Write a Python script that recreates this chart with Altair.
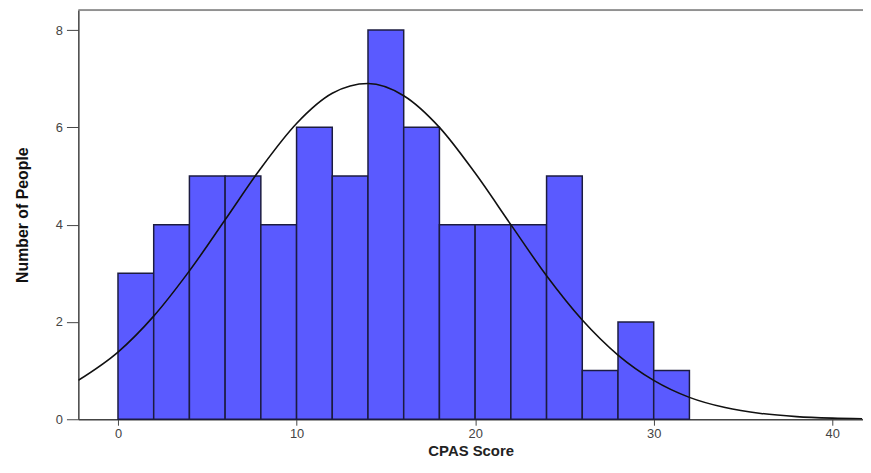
import altair as alt
import pandas as pd

# Histogram bins (width 2) and counts
bin_start = [0, 2, 4, 6, 8, 10, 12, 14, 16, 18, 20, 22, 24, 26, 28, 30]
bin_end = [2, 4, 6, 8, 10, 12, 14, 16, 18, 20, 22, 24, 26, 28, 30, 32]
counts = [3, 4, 5, 5, 4, 6, 5, 8, 6, 4, 4, 4, 5, 1, 2, 1]

# Fitted normal curve
curve_x = [-2.22, 0, 2, 4, 6, 8, 10, 12, 14, 16, 18, 20, 22, 24, 26, 28, 30, 32, 34, 36, 38, 40, 41.67]
curve_y = [0.80, 1.38, 2.12, 3.05, 4.10, 5.16, 6.08, 6.70, 6.90, 6.65, 6.00, 5.06, 4.00, 2.95, 2.04,
           1.32, 0.80, 0.45, 0.24, 0.12, 0.055, 0.024, 0.011]

x_ticks = [0, 10, 20, 30, 40]
y_ticks = [0, 2, 4, 6, 8]

XDOM = [-2.22, 41.72]
YDOM = [0, 8.41]

bars_df = pd.DataFrame({"start": bin_start, "end": bin_end, "count": counts})
curve_df = pd.DataFrame({"x": curve_x, "y": curve_y})
top_df = pd.DataFrame({"x": [XDOM[0]], "x2": [XDOM[1]], "y": [YDOM[1]]})

xscale = alt.Scale(domain=XDOM, nice=False, zero=False)
yscale = alt.Scale(domain=YDOM, nice=False)

bars = alt.Chart(bars_df).mark_bar(
    color="#5A5AFF", stroke="#1c1c40", strokeWidth=1.5, opacity=1
).encode(
    x=alt.X("start:Q", scale=xscale,
            axis=alt.Axis(values=x_ticks, title="CPAS Score", grid=False,
                          tickSize=6, tickColor="#444", domainColor="#444", domainWidth=1.5,
                          labelColor="#444", labelFontSize=13, labelFont="Liberation Sans",
                          labelPadding=2,
                          titleFont="Liberation Sans", titleFontSize=15, titleFontWeight="bold",
                          titleColor="#222", titlePadding=4)),
    x2="end:Q",
    y=alt.Y("count:Q", scale=yscale,
            axis=alt.Axis(values=y_ticks, title="Number of People", grid=False,
                          tickSize=12, tickColor="#444", domainColor="#444", domainWidth=1.5,
                          labelColor="#444", labelFontSize=13, labelFont="Liberation Sans",
                          labelPadding=4,
                          titleFont="Liberation Sans Narrow, Liberation Sans", titleFontSize=16,
                          titleFontWeight="bold", titleColor="#111", titlePadding=25)),
    y2=alt.datum(0),
)

curve = alt.Chart(curve_df).mark_line(
    color="#111", strokeWidth=1.6, interpolate="monotone", clip=True
).encode(
    x=alt.X("x:Q", scale=xscale),
    y=alt.Y("y:Q", scale=yscale),
)

top = alt.Chart(top_df).mark_rule(color="#777", strokeWidth=1.5).encode(
    x=alt.X("x:Q", scale=xscale),
    x2="x2:Q",
    y=alt.Y("y:Q", scale=yscale),
)

chart = alt.layer(bars, curve, top).properties(
    width=792, height=413,
    autosize=alt.AutoSizeParams(type="none"),
    padding={"left": 71, "top": 0, "right": 0, "bottom": 39},
).configure_view(stroke=None).configure(background="white")

chart.save("out.html", embed_options={"renderer": "svg", "actions": False})
